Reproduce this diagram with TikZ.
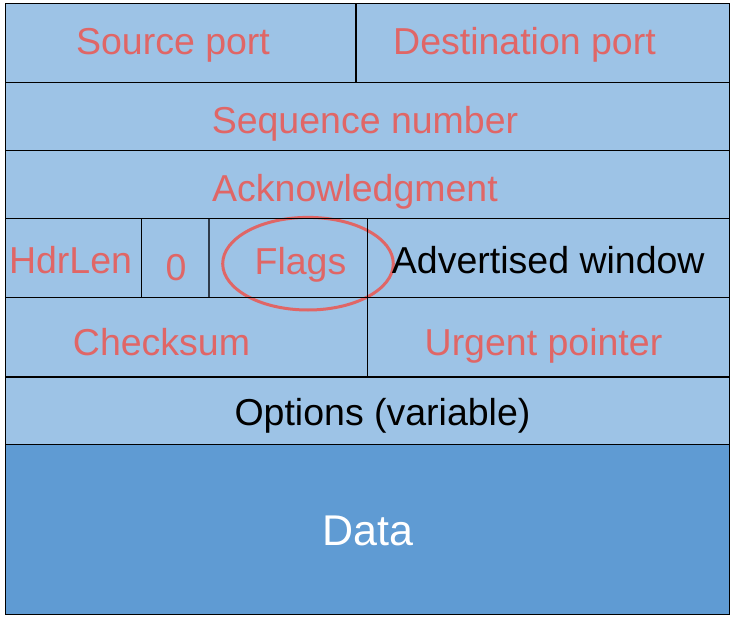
\documentclass[tikz,border=0pt]{standalone}
\usepackage{fontspec}
\setmainfont{Liberation Sans}
\definecolor{hdrblue}{HTML}{9DC3E6}
\definecolor{datablue}{HTML}{5F9BD3}
\definecolor{redtext}{HTML}{E06666}
\definecolor{darkline}{HTML}{2F3B4A}
\tikzset{
  lbl/.style={anchor=base, inner sep=0pt, font=\fontsize{37.5}{40}\selectfont},
  redlbl/.style={lbl, text=redtext},
  blacklbl/.style={lbl, text=black},
  grid/.style={draw=black, line width=1.1pt},
}
\begin{document}
\begin{tikzpicture}[x=1pt, y=-1pt]
\useasboundingbox (0,0) rectangle (742,618);
% fills
\fill[hdrblue] (5.3,3.3) rectangle (729.3,444.3);
\fill[datablue] (5.3,444.3) rectangle (729.3,614.3);
% flags ellipse
\draw[redtext, line width=3pt] (308,263.7) ellipse [x radius=85.3, y radius=46.3];
% grid lines
\draw[grid] (5.3,3.3) rectangle (729.3,614.3);
\foreach \yy in {82.3,150.5,218.5,297.3,377,444.3}
  \draw[grid] (5.3,\yy) -- (729.3,\yy);
\draw[grid] (356,3.3) -- (356,82.3);
\draw[grid] (141.3,218.5) -- (141.3,297.3);
\draw[draw=darkline, line width=1.4pt] (209,218.5) -- (209,297.3);
\draw[grid] (367.7,218.5) -- (367.7,377);
% labels
\node[redlbl] (src) at (173,54.3) {Source port};
\node[redlbl] (dst) at (524.5,54.3) {Destination port};
\node[redlbl] (seq) at (365,133.3) {Sequence number};
\node[redlbl] (ack) at (355,201) {Acknowledgment};
\node[redlbl] (hdr) at (70.5,273.3) {HdrLen};
\node[redlbl] (zero) at (176,280) {0};
\node[redlbl] (flags) at (300.5,274.3) {Flags};
\node[blacklbl] (adv) at (548.3,273.3) {Advertised window};
\node[redlbl] (csum) at (161.5,355) {Checksum};
\node[redlbl] (urg) at (543.5,355) {Urgent pointer};
\node[blacklbl] (opt) at (382.5,425.7) {Options (variable)};
\node[lbl, text=white, font=\fontsize{43}{46}\selectfont] (data) at (368,545.7) {Data};
\end{tikzpicture}
\end{document}
